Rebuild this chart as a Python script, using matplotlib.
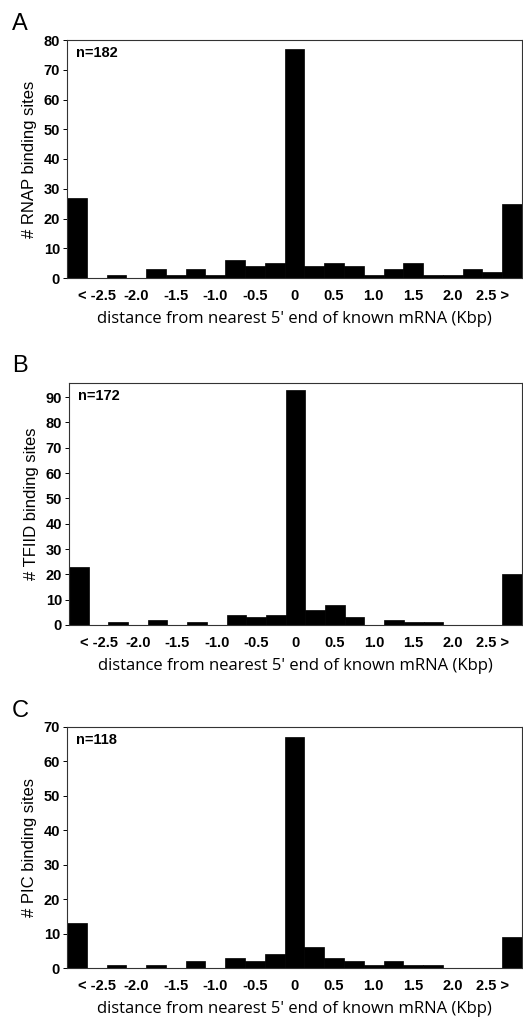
import numpy as np
import matplotlib
matplotlib.use("Agg")
import matplotlib.pyplot as plt

plt.rcParams['font.family'] = ['Liberation Sans', 'DejaVu Sans']

# bins: "< -2.5", -2.5, -2.25, ..., 2.5, "> 2.5"
tick_pos = [1, 3, 5, 7, 9, 11, 13, 15, 17, 19, 21]
tick_labels = ['< -2.5', '-2.0', '-1.5', '-1.0', '-0.5', '0', '0.5', '1.0', '1.5', '2.0', '2.5 >']

rnap = [27, 0, 1, 0, 3, 1, 3, 1, 6, 4, 5, 77, 4, 5, 4, 1, 3, 5, 1, 1, 3, 2, 25]
tfiid = [23, 0, 1, 0, 2, 0, 1, 0, 4, 3, 4, 93, 6, 8, 3, 0, 2, 1, 1, 0, 0, 0, 20]
pic = [13, 0, 1, 0, 1, 0, 2, 0, 3, 2, 4, 67, 6, 3, 2, 1, 2, 1, 1, 0, 0, 0, 9]

panels = [
    ('A', rnap, '# RNAP binding sites', 'n=182', 80, np.arange(0, 81, 10)),
    ('B', tfiid, '# TFIID binding sites', 'n=172', 95.6, np.arange(0, 91, 10)),
    ('C', pic, '# PIC binding sites', 'n=118', 70, np.arange(0, 71, 10)),
]

W, H = 523, 1017
fig = plt.figure(figsize=(W / 100, H / 100), dpi=100)

# pixel boxes: left, top, right, bottom
boxes = [(67, 40, 522, 278), (69, 383, 522, 625), (67, 727, 522, 968)]
letter_y = [24, 366, 711]

for (letter, vals, ylab, ntxt, ymax, yt), (l, t, r, b), ly in zip(panels, boxes, letter_y):
    ax = fig.add_axes([l / W, 1 - b / H, (r - l) / W, (b - t) / H])
    x = np.arange(len(vals))
    ax.bar(x, vals, width=1.0, color='black', edgecolor='black', linewidth=0.5)
    ax.set_xlim(-0.5, len(vals) - 0.5)
    ax.set_ylim(0, ymax)
    ax.set_yticks(yt)
    ax.set_yticklabels([str(v) for v in yt], fontsize=10.5, fontweight='bold')
    ax.set_xticks(tick_pos)
    ax.set_xticklabels(tick_labels, fontsize=10.5, fontweight='bold')
    ax.tick_params(axis='x', length=0, pad=8)
    ax.tick_params(axis='y', length=3, width=0.7, pad=2)
    for s in ax.spines.values():
        s.set_linewidth(0.8)
        s.set_color('#333333')
    ax.set_ylabel(ylab, fontsize=12, labelpad=5)
    ax.set_xlabel("distance from nearest 5' end of known mRNA (Kbp)", fontsize=12,
                  family=['Open Sans', 'DejaVu Sans'], labelpad=6)
    ax.text(0.02, 0.975, ntxt, transform=ax.transAxes, ha='left', va='top',
            fontsize=10.5, fontweight='bold')
    fig.text(12 / W, 1 - ly / H, letter, fontsize=17, ha='left', va='center')

fig.savefig('out.png', dpi=100)
